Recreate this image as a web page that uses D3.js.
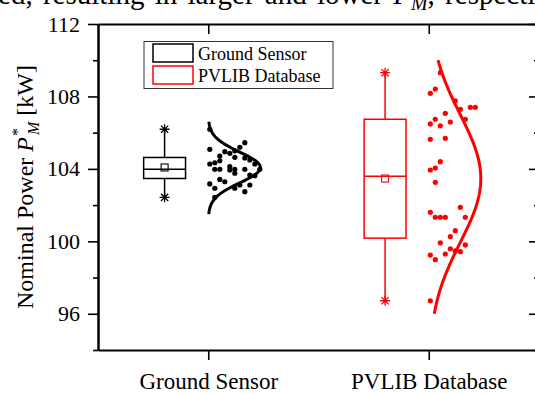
<!DOCTYPE html>
<html><head><meta charset="utf-8">
<script src="https://cdn.jsdelivr.net/npm/d3@7"></script>
<style>
html,body{margin:0;padding:0;background:#fff;overflow:hidden}
svg{display:block;font-family:"Liberation Serif","Times New Roman",serif}
</style></head><body>
<svg id="chart" width="535" height="394"></svg>
<script>
// Nominal power estimates per data source
const categories = ["Ground Sensor", "PVLIB Database"];
const groundSensorValues = [106.19, 105.08, 104.71, 104.95, 104.86, 105.45, 105.19, 105.00, 104.64,
  104.27, 104.34, 104.45, 103.98, 103.98, 104.12, 103.94, 103.76, 103.98, 104.49, 104.27, 103.98,
  103.66, 103.29, 103.17, 102.93, 103.42, 102.93, 103.11, 103.11, 102.74, 102.43, 104.60, 103.98, 103.62];
// jitter column of each point beside the box
const groundSensorSlots = [0, 0, 2, 3, 4, 7, 6, 5, 5,
  0, 1, 2, 1, 2, 4, 4, 5, 7, 8, 9, 10,
  8, 3, 0, 1, 2, 5, 6, 8, 7, 1, 7, 5, 9];
const pvlibValues = [109.31, 108.17, 108.41, 107.76, 107.29, 107.40, 107.40, 107.07, 106.74, 106.74,
  106.59, 106.48, 106.38, 105.63, 105.69, 104.40, 104.05, 103.94, 103.26, 101.88, 101.60, 101.33,
  101.33, 101.33, 101.33, 100.59, 100.26, 99.92, 99.80, 99.59, 99.47, 99.43, 99.30, 99.24, 98.99, 96.72];
const pvlibSlots = [2, 0, 1, 5, 6, 8, 9, 3, 7, 1,
  4, 0, 2, 0, 3, 2, 1, 0, 1, 6, 0, 1,
  2, 3, 7, 5, 4, 2, 7, 4, 5, 6, 3, 0, 1, 0];
// span of the fitted normal curve
const curveLow = [101.5, 96.0];
const curveHigh = [106.6, 110.0];
const yMajorTicks = [96, 100, 104, 108, 112];
const yMinorTicks = [94, 98, 102, 106, 110];
const seriesColors = ["#000000", "#ff0000"];

const seriesValues = [groundSensorValues, pvlibValues];
const seriesSlots = [groundSensorSlots, pvlibSlots];

const svg = d3.select("#chart");
const x = d3.scaleLinear().domain([0.5, 2.5]).range([98, 539]);
const y = d3.scaleLinear().domain([94, 112]).range([350, 24]);
const slotOffset = d3.scaleLinear().domain([0, 10]).range([0.007, 0.234]);

// running text of the page above the figure
const para = svg.append("text").attr("x", -10).attr("y", 4)
  .attr("font-size", 29).attr("word-spacing", 3).attr("fill", "#000");
para.append("tspan").text("ted, resulting in larger and lower ");
para.append("tspan").attr("font-style", "italic").text("P");
para.append("tspan").attr("font-style", "italic").attr("font-size", 20).attr("dy", 6).text("M");
para.append("tspan").attr("dy", -6).text(", respectively.");

// frame and axes
const axisStyle = g => {
  g.selectAll(".domain").attr("stroke", "#000").attr("stroke-width", 2);
  g.selectAll(".tick line").attr("stroke", "#000").attr("stroke-width", 1.6);
};
svg.append("g").attr("transform", "translate(98,0)")
  .call(d3.axisLeft(y).tickValues(yMajorTicks).tickSize(10).tickSizeOuter(0).tickPadding(8))
  .call(axisStyle)
  .call(g => g.selectAll("text").attr("font-size", 22).attr("font-family", "Liberation Serif").attr("fill", "#000"));
svg.append("g").attr("transform", "translate(98,0)")
  .call(d3.axisLeft(y).tickValues(yMinorTicks).tickSize(5).tickSizeOuter(0).tickFormat(""))
  .call(axisStyle);
svg.append("g").attr("transform", `translate(${x.range()[1]},0)`)
  .call(d3.axisRight(y).tickValues(yMajorTicks).tickSize(-10).tickSizeOuter(0).tickFormat(""))
  .call(axisStyle);
svg.append("g").attr("transform", `translate(${x.range()[1]},0)`)
  .call(d3.axisRight(y).tickValues(yMinorTicks).tickSize(-5).tickSizeOuter(0).tickFormat(""))
  .call(axisStyle);
svg.append("g").attr("transform", "translate(0,350)")
  .call(d3.axisBottom(x).tickValues([1, 2]).tickSize(10).tickSizeOuter(0).tickPadding(13)
    .tickFormat(d => categories[d - 1]))
  .call(axisStyle)
  .call(g => g.selectAll("text").attr("font-size", 23).attr("font-family", "Liberation Serif").attr("fill", "#000"));
svg.append("g").attr("transform", "translate(0,24)")
  .call(d3.axisTop(x).tickValues([1, 2]).tickSize(-10).tickSizeOuter(0).tickFormat(""))
  .call(axisStyle);

// y axis title
const title = svg.append("text")
  .attr("transform", `translate(33,${(y(112) + y(94)) / 2}) rotate(-90)`)
  .attr("text-anchor", "middle").attr("font-size", 24).attr("fill", "#000");
title.append("tspan").text("Nominal Power ");
title.append("tspan").attr("font-style", "italic").text("P");
title.append("tspan").attr("font-size", 16).attr("dy", -10).attr("dx", 1).text("*");
title.append("tspan").attr("font-style", "italic").attr("font-size", 16).attr("dx", -7).attr("dy", 16).text("M");
title.append("tspan").attr("dy", -6).text(" [kW]");

// box, points and distribution curve per category
seriesValues.forEach((vals, i) => {
  const cat = i + 1;
  const color = seriesColors[i];
  const sorted = vals.slice().sort(d3.ascending);
  const q1 = d3.quantile(sorted, 0.25);
  const med = d3.quantile(sorted, 0.5);
  const q3 = d3.quantile(sorted, 0.75);
  const lo = d3.min(sorted), hi = d3.max(sorted);
  const mean = d3.mean(sorted), sd = d3.deviation(sorted);
  const g = svg.append("g");

  const bc = cat - 0.198, bw = 0.095;
  const bx0 = x(bc - bw), bx1 = x(bc + bw), bxc = x(bc);
  g.append("line").attr("x1", bxc).attr("x2", bxc).attr("y1", y(q3)).attr("y2", y(hi))
    .attr("stroke", color).attr("stroke-width", 1.5);
  g.append("line").attr("x1", bxc).attr("x2", bxc).attr("y1", y(q1)).attr("y2", y(lo))
    .attr("stroke", color).attr("stroke-width", 1.5);
  g.append("rect").attr("x", bx0).attr("y", y(q3)).attr("width", bx1 - bx0).attr("height", y(q1) - y(q3))
    .attr("fill", "none").attr("stroke", color).attr("stroke-width", 1.5);
  g.append("line").attr("x1", bx0).attr("x2", bx1).attr("y1", y(med)).attr("y2", y(med))
    .attr("stroke", color).attr("stroke-width", 1.5);
  g.append("rect").attr("x", bxc - 3.5).attr("y", y(mean) - 3.5).attr("width", 7).attr("height", 7)
    .attr("fill", "none").attr("stroke", color).attr("stroke-width", 1.1);
  const star = "M-5,0H5M0,-5V5M-3.6,-3.6L3.6,3.6M-3.6,3.6L3.6,-3.6";
  [lo, hi].forEach(v => g.append("path").attr("d", star)
    .attr("transform", `translate(${bxc},${y(v)})`).attr("stroke", color).attr("stroke-width", 1.3).attr("fill", "none"));

  g.selectAll("circle.pt").data(vals).join("circle").attr("class", "pt")
    .attr("cx", (v, k) => x(cat + slotOffset(seriesSlots[i][k])))
    .attr("cy", v => y(v)).attr("r", 2.6).attr("fill", color);

  const steps = d3.range(0, 121).map(k => curveLow[i] + (curveHigh[i] - curveLow[i]) * k / 120);
  const peak = 0.236;
  const line = d3.line()
    .x(v => x(cat + peak * Math.exp(-0.5 * ((v - mean) / sd) ** 2)))
    .y(v => y(v));
  g.append("path").attr("d", line(steps)).attr("fill", "none")
    .attr("stroke", color).attr("stroke-width", 3);
});

// legend
const lg = svg.append("g");
lg.append("rect").attr("x", 144).attr("y", 41.5).attr("width", 189).attr("height", 47)
  .attr("fill", "#fff").attr("stroke", "#333").attr("stroke-width", 1);
categories.forEach((c, i) => {
  lg.append("rect").attr("x", 153).attr("y", 44 + i * 22).attr("width", 40).attr("height", 18)
    .attr("fill", "none").attr("stroke", seriesColors[i]).attr("stroke-width", 1.5);
  lg.append("text").attr("x", 198).attr("y", 60 + i * 22).attr("font-size", 18).attr("fill", "#000").text(c);
});
</script>
</body></html>
